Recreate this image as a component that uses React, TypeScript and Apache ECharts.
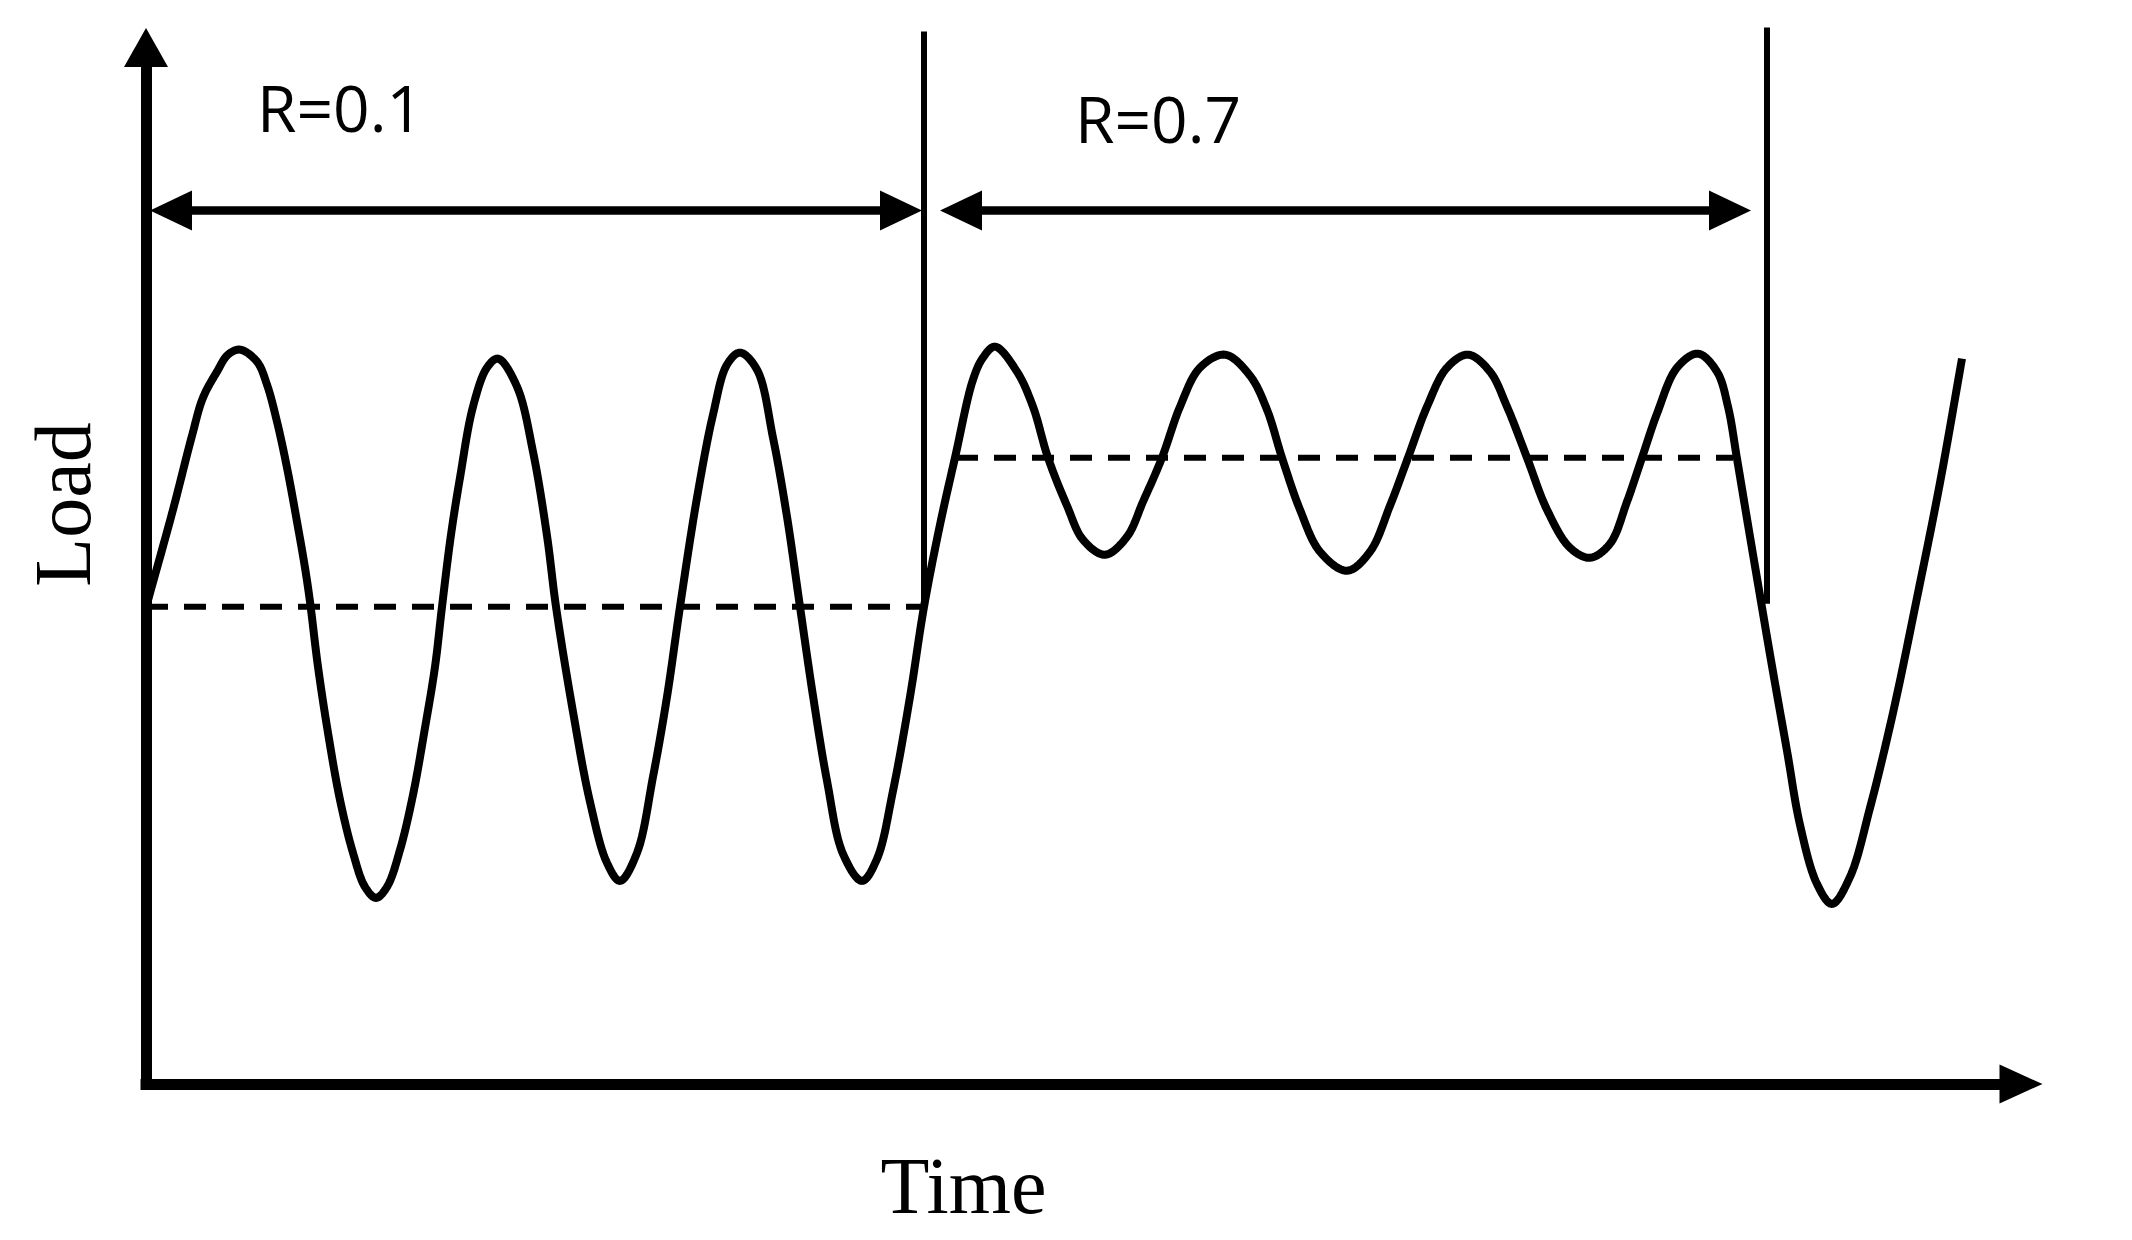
import React, { useEffect, useRef } from "react";
import * as echarts from "echarts";

// Load history (time, load) in arbitrary units
const timeValues = [
  0.01, 0.27, 0.46, 0.57, 0.71, 0.82, 0.94, 1.11, 1.21, 1.31, 1.41, 1.51, 1.59, 1.64, 1.72, 1.82,
  1.94, 2.07, 2.19, 2.30, 2.41, 2.54, 2.67, 2.79, 2.89, 2.96, 3.05, 3.14, 3.27, 3.41, 3.52, 3.71,
  3.87, 4.01, 4.10, 4.27, 4.44, 4.61, 4.74, 4.91, 5.07, 5.21, 5.34, 5.51, 5.67, 5.81, 5.94, 6.11,
  6.27, 6.41, 6.54, 6.67, 6.81, 6.97, 7.16, 7.31, 7.47, 7.64, 7.78,
  7.94, 8.09, 8.27, 8.37, 8.49, 8.71, 8.87, 9.02, 9.21, 9.37, 9.59, 9.81, 9.97, 10.16, 10.34, 10.54,
  10.79, 11.04, 11.21, 11.36, 11.54, 11.74, 12.01, 12.24, 12.44, 12.62, 12.81, 13.01, 13.22, 13.44,
  13.61, 13.81, 14.01, 14.24, 14.44, 14.64, 14.81, 14.96, 15.11, 15.31, 15.52, 15.71, 15.82, 15.91,
  16.01, 16.14, 16.27, 16.41, 16.54, 16.71, 16.86, 17.04, 17.24, 17.47, 17.71, 17.94, 18.16,
];
const loadValues = [
  4.80, 5.74, 6.48, 6.86, 7.12, 7.29, 7.34, 7.22, 6.99, 6.62, 6.16, 5.62, 5.16, 4.82, 4.17, 3.51,
  2.84, 2.31, 1.97, 1.86, 1.97, 2.34, 2.89, 3.56, 4.17, 4.77, 5.49, 6.06, 6.77, 7.16, 7.25, 6.97,
  6.32, 5.48, 4.77, 3.72, 2.82, 2.21, 2.03, 2.31, 3.07, 3.87, 4.77, 5.86, 6.69, 7.19, 7.31, 7.14,
  6.46, 5.67, 4.77, 3.88, 3.03, 2.30, 2.03, 2.25, 2.93, 3.87, 4.77,
  5.59, 6.26, 7.04, 7.26, 7.37, 7.12, 6.77, 6.26, 5.78, 5.44, 5.29, 5.47, 5.82, 6.26, 6.77, 7.16,
  7.29, 7.08, 6.74, 6.26, 5.74, 5.32, 5.13, 5.32, 5.78, 6.26, 6.77, 7.16, 7.29, 7.12,
  6.77, 6.26, 5.74, 5.36, 5.26, 5.40, 5.82, 6.26, 6.70, 7.16, 7.30, 7.12, 6.77, 6.25,
  5.65, 4.88, 4.12, 3.33, 2.59, 2.00, 1.80, 2.07, 2.76, 3.71, 4.86, 6.01, 7.25,
];

// Mean load of each block (dashed lines)
const meanLoads = [4.77, 6.26];
const meanStart = [0, 8.1];
const meanEnd = [7.78, 15.87];

// Block boundaries (vertical lines)
const boundaryTimes = [7.78, 16.21];
const boundaryBottom = [4.77, 4.8];
const boundaryTop = [10.52, 10.56];

// Block spans (double arrows) and their stress ratios
const spanStart = [0.04, 7.94];
const spanEnd = [7.76, 16.05];
const spanLoad = [8.73, 8.73];
const ratioLabels = ["R=0.1", "R=0.7"];
const labelTime = [1.94, 10.12];
const labelLoad = [9.76, 9.65];

const X_MAX = 18.75;
const Y_MAX = 10.36;

// Centripetal Catmull-Rom through pixel points (rendering only)
function splinePoints(pts: number[][], steps: number): number[][] {
  const n = pts.length;
  if (n < 3) return pts;
  const ext = [
    [2 * pts[0][0] - pts[1][0], 2 * pts[0][1] - pts[1][1]],
    ...pts,
    [2 * pts[n - 1][0] - pts[n - 2][0], 2 * pts[n - 1][1] - pts[n - 2][1]],
  ];
  const out: number[][] = [pts[0]];
  const dist = (a: number[], b: number[]) =>
    Math.max(1e-6, Math.pow(Math.hypot(b[0] - a[0], b[1] - a[1]), 0.5));
  const lerp = (a: number[], b: number[], ta: number, tb: number, t: number) => {
    const w = (t - ta) / (tb - ta);
    return [a[0] + (b[0] - a[0]) * w, a[1] + (b[1] - a[1]) * w];
  };
  for (let i = 1; i < ext.length - 2; i++) {
    const p0 = ext[i - 1], p1 = ext[i], p2 = ext[i + 1], p3 = ext[i + 2];
    const t0 = 0;
    const t1 = t0 + dist(p0, p1);
    const t2 = t1 + dist(p1, p2);
    const t3 = t2 + dist(p2, p3);
    for (let s = 1; s <= steps; s++) {
      const t = t1 + ((t2 - t1) * s) / steps;
      const a1 = lerp(p0, p1, t0, t1, t);
      const a2 = lerp(p1, p2, t1, t2, t);
      const a3 = lerp(p2, p3, t2, t3, t);
      const b1 = lerp(a1, a2, t0, t2, t);
      const b2 = lerp(a2, a3, t1, t3, t);
      out.push(lerp(b1, b2, t1, t2, t));
    }
  }
  return out;
}

export default function App() {
  const ref = useRef<HTMLDivElement>(null);

  useEffect(() => {
    if (!ref.current) return;
    const chart = echarts.init(ref.current, null, { renderer: "svg" });

    const curve = timeValues.map((t, i) => [t, loadValues[i]]);
    const meanSeries = meanLoads.map((m, i) => ({
      type: "line",
      data: [
        [meanStart[i], m],
        [meanEnd[i], m],
      ],
      symbol: "none",
      clip: false,
      lineStyle: { color: "#000", width: 6, type: [22, 16] },
      z: 3,
    }));
    const boundarySeries = boundaryTimes.map((t, i) => ({
      type: "line",
      data: [
        [t, boundaryBottom[i]],
        [t, boundaryTop[i]],
      ],
      symbol: "none",
      clip: false,
      lineStyle: { color: "#000", width: 6 },
      z: 3,
    }));
    const spanData = spanStart.map((s, i) => [s, spanEnd[i], spanLoad[i], labelTime[i], labelLoad[i]]);

    const option: any = {
      animation: false,
      backgroundColor: "#fff",
      grid: { left: 146, right: 111, top: 47.5, bottom: 156, containLabel: false, outerBoundsMode: "none" },
      xAxis: {
        type: "value",
        min: 0,
        max: X_MAX,
        axisLine: {
          show: true,
          onZero: false,
          symbol: ["none", "triangle"],
          symbolSize: [39, 43],
          lineStyle: { color: "#000", width: 11, cap: "square" },
        },
        axisTick: { show: false },
        axisLabel: { show: false },
        splitLine: { show: false },
      },
      yAxis: {
        type: "value",
        min: 0,
        max: Y_MAX,
        axisLine: {
          show: true,
          onZero: false,
          symbol: ["none", "triangle"],
          symbolSize: [44, 39],
          lineStyle: { color: "#000", width: 11, cap: "square" },
        },
        axisTick: { show: false },
        axisLabel: { show: false },
        splitLine: { show: false },
      },
      graphic: [
        {
          type: "text",
          x: 963.5,
          y: 1186,
          style: {
            text: "Time",
            fontFamily: "Liberation Serif",
            fontSize: 80,
            fill: "#000",
            align: "center",
            verticalAlign: "middle",
          },
        },
        {
          type: "text",
          x: 63,
          y: 504.5,
          rotation: Math.PI / 2,
          style: {
            text: "Load",
            fontFamily: "Liberation Serif",
            fontSize: 80,
            fill: "#000",
            align: "center",
            verticalAlign: "middle",
          },
        },
      ],
      series: [
        ...meanSeries,
        ...boundarySeries,
        {
          type: "custom",
          data: spanData,
          clip: false,
          z: 4,
          renderItem: (params: any, api: any) => {
            const y = api.value(2);
            const p0 = api.coord([api.value(0), y]);
            const p1 = api.coord([api.value(1), y]);
            const lp = api.coord([api.value(3), api.value(4)]);
            const hl = 42;
            const hw = 20;
            return {
              type: "group",
              children: [
                {
                  type: "line",
                  shape: { x1: p0[0] + hl - 2, y1: p0[1], x2: p1[0] - hl + 2, y2: p1[1] },
                  style: { stroke: "#000", lineWidth: 8.5 },
                },
                {
                  type: "polygon",
                  shape: { points: [[p0[0], p0[1]], [p0[0] + hl, p0[1] - hw], [p0[0] + hl, p0[1] + hw]] },
                  style: { fill: "#000" },
                },
                {
                  type: "polygon",
                  shape: { points: [[p1[0], p1[1]], [p1[0] - hl, p1[1] - hw], [p1[0] - hl, p1[1] + hw]] },
                  style: { fill: "#000" },
                },
                {
                  type: "text",
                  x: lp[0],
                  y: lp[1],
                  style: {
                    text: ratioLabels[params.dataIndex],
                    fontFamily: "Open Sans",
                    fontSize: 64,
                    fill: "#000",
                    align: "center",
                    verticalAlign: "middle",
                  },
                },
              ],
            };
          },
        },
        {
          type: "custom",
          data: curve,
          clip: false,
          z: 5,
          renderItem: (params: any, api: any) => {
            if (params.dataIndex !== 0) return null;
            const px = curve.map((p) => api.coord(p));
            return {
              type: "polyline",
              shape: { points: splinePoints(px, 16) },
              style: { stroke: "#000", lineWidth: 8, fill: null, lineJoin: "round" },
            };
          },
        },
      ],
    };
    chart.setOption(option);
    return () => chart.dispose();
  }, []);

  return (
    <div
      ref={ref}
      style={{ position: "fixed", left: 0, top: 0, width: 2132, height: 1240, background: "#fff" }}
    />
  );
}
